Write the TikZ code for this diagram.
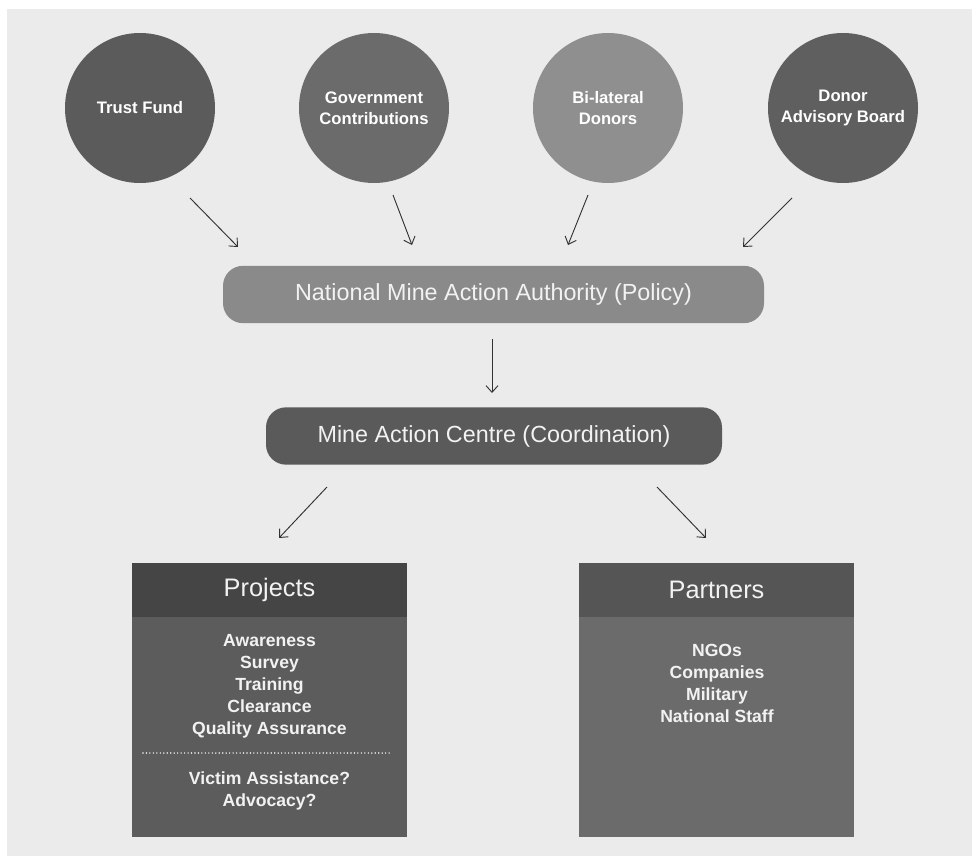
\documentclass[tikz,border=0pt]{standalone}
\usepackage{fontspec}
\setmainfont{Liberation Sans}
\usepackage{tikz}
\usetikzlibrary{arrows.meta,positioning,calc}
\definecolor{bgfill}{HTML}{EBEBEB}
\definecolor{fundA}{HTML}{5B5B5B}
\definecolor{fundB}{HTML}{6B6B6B}
\definecolor{fundC}{HTML}{8F8F8F}
\definecolor{fundD}{HTML}{5F5F5F}
\definecolor{policy}{HTML}{8A8A8A}
\definecolor{centre}{HTML}{5A5A5A}
\definecolor{projhead}{HTML}{454545}
\definecolor{projbody}{HTML}{5C5C5C}
\definecolor{parthead}{HTML}{555555}
\definecolor{partbody}{HTML}{6B6B6B}
\definecolor{paper}{HTML}{F2F2F2}

\begin{document}
\begin{tikzpicture}[x=0.75pt,y=-0.75pt,
  fund/.style={circle,minimum size=112.5pt,inner sep=0pt,text=white,align=center,font=\bfseries\fontsize{12.5}{15.5}\selectfont},
  bar/.style={rounded corners=15pt,minimum height=43pt,text=paper,font=\fontsize{17.5}{20}\selectfont},
  headbox/.style={minimum width=206.25pt,minimum height=40.5pt,inner sep=0pt,outer sep=0pt,text=paper,font=\fontsize{19}{22}\selectfont},
  bodybox/.style={minimum width=206.25pt,minimum height=165pt,inner sep=0pt,outer sep=0pt},
  items/.style={align=center,text=paper,font=\bfseries\fontsize{13.2}{16.5}\selectfont},
  flow/.style={-{Straight Barb[length=5pt,width=9pt]},draw=black!80,line width=0.7pt}]
\useasboundingbox (0,0) rectangle (972,856);
\fill[white] (0,0) rectangle (972,856);
\fill[bgfill] (7,9) rectangle (972,856);

% funding sources
\node[fund,fill=fundA] (trust) at (140,108) {Trust Fund};
\node[fund,fill=fundB] (gov) at (374,108) {Government\\Contributions};
\node[fund,fill=fundC] (bilat) at (608,108) {Bi-lateral\\Donors};
\node[fund,fill=fundD] (board) at (843,108) {Donor\\Advisory Board};

\node[bar,fill=policy,minimum width=405.75pt] (nmaa) at (493.5,294.5) {National Mine Action Authority (Policy)};
\node[bar,fill=centre,minimum width=342pt] (mac) at (494,436) {Mine Action Centre (Coordination)};

% projects and partners
\node[headbox,fill=projhead] (projH) at (269.5,590) {Projects};
\node[bodybox,fill=projbody,below=0pt of projH] (projB) {};
\node[items] (projL) at (269.5,686) {Awareness\\Survey\\Training\\Clearance\\Quality Assurance};
\node[items] (projX) at (269.5,791) {Victim Assistance?\\Advocacy?};
\coordinate (dotL) at (143,753);
\coordinate (dotR) at (392,753);
\draw[paper,line width=1.2pt,line cap=round,dash pattern=on 0pt off 2.6pt] (dotL) -- (dotR);

\node[headbox,fill=parthead] (partH) at (716.5,590) {Partners};
\node[bodybox,fill=partbody,below=0pt of partH] (partB) {};
\node[items] (partL) at (717,683) {NGOs\\Companies\\Military\\National Staff};

% arrows
\coordinate (s1) at (190,198); \coordinate (e1) at (238,247);
\coordinate (s2) at (393,195); \coordinate (e2) at (412,245);
\coordinate (s3) at (588,195); \coordinate (e3) at (568,245);
\coordinate (s4) at (792,198); \coordinate (e4) at (743,247);
\coordinate (s5) at (492,339); \coordinate (e5) at (492,393);
\coordinate (s6) at (327,487); \coordinate (e6) at (279,538);
\coordinate (s7) at (657,487); \coordinate (e7) at (706,538);
\foreach \i in {1,...,7}
  \draw[flow] (s\i) -- (e\i);
\end{tikzpicture}
\end{document}
